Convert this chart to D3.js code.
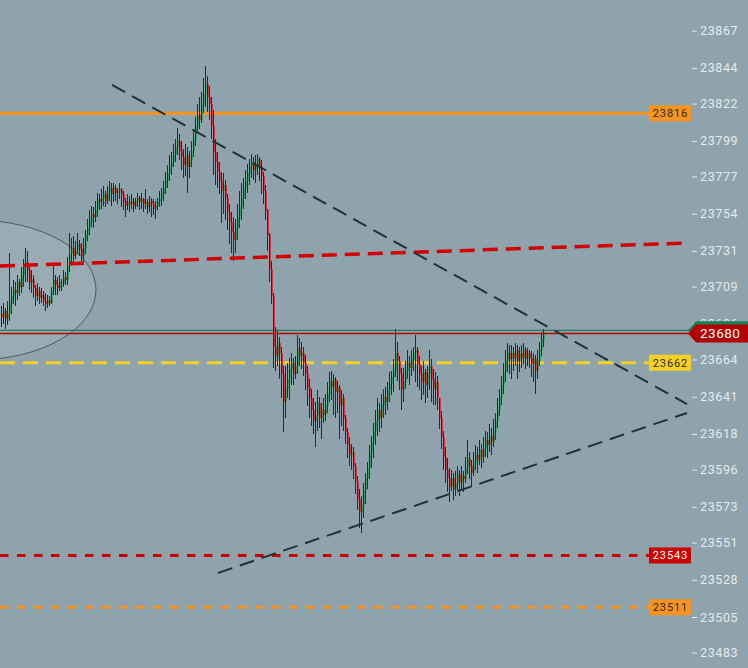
<!DOCTYPE html>
<html>
<head>
<meta charset="utf-8">
<script src="https://cdn.jsdelivr.net/npm/d3@7"></script>
<style>
  body { margin: 0; background: #8fa3ac; }
  svg { display: block; }
</style>
</head>
<body>
<svg id="chart" width="748" height="668"></svg>
<script>
// price series, one bar per column (open = previous close)
var firstOpen = 23692;
var closes = [
  23690,23694,23689,23692,23699,23703,23707,23705,23712,23709,
  23716,23721,23724,23719,23711,23714,23708,23703,23706,23702,
  23704,23700,23698,23701,23699,23706,23713,23710,23708,23712,
  23711,23715,23713,23722,23729,23733,23728,23731,23735,23732,
  23728,23733,23740,23745,23749,23754,23752,23757,23763,23761,
  23764,23766,23762,23767,23770,23766,23770,23767,23768,23769,
  23766,23762,23759,23761,23760,23762,23759,23762,23764,23761,
  23763,23760,23761,23758,23762,23760,23757,23759,23761,23764,
  23766,23770,23775,23779,23783,23786,23790,23795,23799,23793,
  23789,23784,23790,23783,23787,23793,23800,23808,23815,23812,
  23821,23828,23834,23826,23822,23808,23792,23786,23780,23774,
  23768,23772,23764,23755,23749,23743,23738,23745,23752,23758,
  23764,23770,23774,23779,23783,23786,23781,23784,23788,23783,
  23777,23768,23756,23741,23720,23703,23672,23666,23674,23668,
  23655,23638,23646,23652,23658,23662,23655,23660,23671,23666,
  23668,23662,23655,23647,23640,23633,23626,23630,23637,23628,
  23633,23630,23636,23643,23651,23647,23652,23644,23647,23636,
  23640,23628,23619,23611,23605,23607,23598,23589,23578,23570,
  23574,23583,23590,23597,23606,23613,23620,23626,23633,23628,
  23636,23641,23638,23646,23649,23653,23657,23668,23663,23655,
  23645,23650,23657,23662,23659,23664,23668,23670,23661,23655,
  23650,23656,23648,23655,23660,23652,23646,23650,23640,23628,
  23616,23604,23596,23591,23585,23591,23584,23588,23593,23588,
  23592,23590,23597,23603,23598,23594,23600,23605,23602,23608,
  23604,23609,23614,23611,23617,23613,23620,23626,23633,23641,
  23648,23656,23663,23668,23664,23668,23665,23670,23663,23668,
  23665,23670,23664,23668,23665,23661,23664,23657,23663,23670,
  23676,23680
];
var highs = [
  23697,23699,23696,23700,23730,23709,23713,23712,23716,23714,
  23721,23726,23733,23731,23721,23719,23716,23710,23711,23709,
  23708,23706,23705,23704,23703,23709,23722,23716,23715,23716,
  23714,23719,23718,23727,23742,23739,23740,23737,23742,23738,
  23736,23739,23744,23751,23756,23759,23758,23762,23767,23766,
  23769,23771,23768,23771,23774,23773,23773,23772,23770,23773,
  23770,23768,23764,23766,23765,23766,23764,23764,23767,23765,
  23767,23764,23769,23763,23765,23764,23763,23762,23764,23768,
  23770,23774,23780,23784,23790,23792,23797,23800,23807,23803,
  23799,23794,23797,23795,23793,23799,23806,23814,23822,23826,
  23829,23838,23845,23839,23833,23826,23818,23800,23792,23786,
  23780,23779,23775,23766,23760,23755,23752,23751,23760,23768,
  23773,23776,23781,23785,23788,23791,23789,23790,23791,23789,
  23787,23780,23772,23757,23742,23725,23705,23684,23682,23678,
  23672,23660,23660,23662,23665,23668,23665,23666,23679,23677,
  23675,23672,23667,23660,23652,23646,23640,23638,23645,23641,
  23637,23640,23643,23650,23656,23657,23655,23653,23651,23648,
  23645,23643,23630,23622,23616,23612,23610,23600,23592,23584,
  23580,23588,23594,23601,23611,23617,23625,23633,23640,23637,
  23643,23646,23647,23650,23656,23657,23664,23683,23675,23666,
  23659,23659,23663,23670,23666,23670,23672,23679,23672,23666,
  23660,23663,23658,23660,23670,23664,23658,23656,23654,23640,
  23632,23620,23610,23603,23597,23596,23594,23595,23598,23596,
  23598,23595,23604,23614,23607,23602,23607,23611,23610,23614,
  23612,23616,23620,23619,23624,23622,23627,23631,23640,23646,
  23654,23662,23670,23674,23673,23673,23672,23674,23673,23672,
  23673,23674,23672,23671,23670,23669,23668,23667,23670,23675,
  23681,23683
];
var lows = [
  23684,23686,23683,23685,23688,23692,23698,23697,23701,23703,
  23705,23709,23712,23712,23707,23705,23702,23697,23700,23698,
  23699,23697,23694,23696,23697,23698,23704,23704,23704,23706,
  23706,23709,23710,23710,23718,23724,23724,23726,23729,23728,
  23724,23724,23729,23737,23741,23746,23745,23749,23752,23756,
  23757,23759,23758,23760,23762,23759,23761,23762,23760,23763,
  23758,23756,23752,23756,23755,23757,23755,23757,23758,23756,
  23757,23755,23757,23754,23755,23752,23753,23751,23756,23758,
  23759,23762,23766,23770,23774,23778,23783,23786,23790,23787,
  23781,23776,23777,23767,23776,23783,23789,23796,23804,23806,
  23810,23816,23820,23817,23812,23800,23778,23772,23770,23766,
  23748,23754,23750,23744,23735,23730,23725,23730,23738,23745,
  23750,23757,23763,23767,23772,23776,23775,23773,23778,23774,
  23766,23760,23750,23731,23712,23698,23659,23657,23660,23652,
  23640,23619,23628,23640,23639,23648,23648,23652,23655,23660,
  23658,23654,23645,23635,23628,23623,23618,23610,23620,23622,
  23615,23625,23626,23631,23638,23639,23630,23628,23631,23615,
  23623,23620,23612,23603,23598,23596,23590,23581,23571,23560,
  23557,23566,23575,23584,23590,23597,23603,23611,23617,23619,
  23622,23628,23630,23633,23638,23642,23644,23653,23651,23645,
  23633,23638,23646,23652,23648,23654,23657,23650,23647,23645,
  23639,23642,23637,23640,23645,23638,23636,23636,23633,23621,
  23609,23596,23588,23582,23576,23583,23577,23580,23583,23580,
  23583,23582,23588,23593,23590,23586,23592,23596,23594,23599,
  23597,23600,23604,23603,23607,23605,23610,23614,23622,23629,
  23636,23643,23650,23656,23655,23652,23657,23660,23652,23656,
  23659,23661,23658,23660,23659,23653,23650,23643,23652,23660,
  23666,23672
];

// axis tick labels (right price scale)
var tickValues = [23483,23505,23528,23551,23573,23596,23618,23641,23664,
                  23686,23709,23731,23754,23777,23799,23822,23844,23867];

// horizontal levels with their tag colours
var levels = [23816, 23662, 23543, 23511];
var levelColors = ["#f7931e", "#f5d125", "#cc0000", "#f7931e"];
var levelText = ["#2b2b2b", "#2b2b2b", "#ffffff", "#2b2b2b"];
var levelDash = [null, "15,8", "8.5,8.5", "8.5,8.5"];
var lastPrice = 23680;
var askPrice = 23682;

// drawn objects: [bar index, price] end points
var upperTrend = [[55.5, 23833.5], [343, 23636.5]];
var lowerTrend = [[108.5, 23532.2], [343, 23631.0]];
var redTrend = [[-0.5, 23721.7], [343, 23735.9]];
var ellipseCenter = [-13, 23706.9];
var ellipseRadius = [60.5, 43.2]; // in bars, in price points

var W = 748, H = 668;
var svg = d3.select("#chart");
var index = d3.range(closes.length);

var xs = d3.scaleLinear().domain([0, closes.length - 1]).range([1, 543]);
var ys = d3.scaleLinear().domain([23483.4, 23867.43]).range([652, 30]);

svg.append("rect").attr("width", W).attr("height", H).attr("fill", "#8fa3ac");

// highlighted ellipse
svg.append("ellipse")
  .attr("cx", xs(ellipseCenter[0]))
  .attr("cy", ys(ellipseCenter[1]))
  .attr("rx", xs(ellipseRadius[0]) - xs(0))
  .attr("ry", ys(ellipseCenter[1] - ellipseRadius[1]) - ys(ellipseCenter[1]))
  .attr("fill", "rgba(255,255,255,0.09)")
  .attr("stroke", "#4c5b63")
  .attr("stroke-width", 1);

// ask / last price lines
svg.append("line")
  .attr("x1", 0).attr("x2", 690)
  .attr("y1", ys(askPrice)).attr("y2", ys(askPrice))
  .attr("stroke", "#16805a").attr("stroke-width", 1.2);
svg.append("line")
  .attr("x1", 0).attr("x2", 690)
  .attr("y1", ys(lastPrice)).attr("y2", ys(lastPrice))
  .attr("stroke", "#c00000").attr("stroke-width", 1.4);

// level lines (under candles)
svg.append("g").selectAll("line").data(levels).enter().append("line")
  .attr("x1", 0).attr("x2", 649)
  .attr("y1", function(d) { return ys(d); })
  .attr("y2", function(d) { return ys(d); })
  .attr("stroke", function(d, i) { return levelColors[i]; })
  .attr("stroke-width", 3)
  .attr("stroke-dasharray", function(d, i) { return levelDash[i]; });

// candles: dark wick column with the coloured body in the column beside it
var opens = index.map(function(i) { return i == 0 ? firstOpen : closes[i - 1]; });
var candles = svg.append("g").attr("shape-rendering", "crispEdges");
candles.selectAll("rect.wick").data(index).enter().append("rect")
  .attr("class", "wick")
  .attr("x", function(i) { return xs(i); })
  .attr("width", 1)
  .attr("y", function(i) { return ys(highs[i]); })
  .attr("height", function(i) { return ys(lows[i]) - ys(highs[i]); })
  .attr("fill", "#222b31");
candles.selectAll("rect.body").data(index).enter().append("rect")
  .attr("class", "body")
  .attr("x", function(i) { return xs(i) + 1; })
  .attr("width", 1)
  .attr("y", function(i) { return ys(Math.max(opens[i], closes[i])); })
  .attr("height", function(i) { return Math.max(1, Math.abs(ys(opens[i]) - ys(closes[i]))); })
  .attr("fill", function(i) { return closes[i] >= opens[i] ? "#2aa866" : "#e3313d"; });

// trend lines
var line = d3.line()
  .x(function(d) { return xs(d[0]); })
  .y(function(d) { return ys(d[1]); });
svg.append("path").attr("d", line(redTrend))
  .attr("fill", "none").attr("stroke", "#d20000")
  .attr("stroke-width", 3.5).attr("stroke-dasharray", "15,8");
[upperTrend, lowerTrend].forEach(function(t) {
  svg.append("path").attr("d", line(t))
    .attr("fill", "none").attr("stroke", "#262f36")
    .attr("stroke-width", 2).attr("stroke-dasharray", "15,8");
});

// level tags
var tags = svg.append("g").selectAll("g").data(levels).enter().append("g");
tags.append("rect")
  .attr("x", 649).attr("width", 42)
  .attr("y", function(d) { return ys(d) - 8; })
  .attr("height", 16)
  .attr("fill", function(d, i) { return levelColors[i]; });
tags.append("text")
  .attr("x", 670.5)
  .attr("y", function(d) { return ys(d); })
  .attr("dy", "0.36em")
  .attr("text-anchor", "middle")
  .attr("font-family", "Roboto, sans-serif")
  .attr("font-size", "11px")
  .attr("letter-spacing", "0.9px")
  .attr("fill", function(d, i) { return levelText[i]; })
  .text(function(d) { return d; });

// price axis
var axis = svg.append("g")
  .attr("transform", "translate(692,0)")
  .call(d3.axisRight(ys).tickValues(tickValues).tickSize(5).tickPadding(3).tickFormat(d3.format("d")));
axis.select(".domain").remove();
axis.selectAll(".tick line").attr("stroke", "#e1e7ea").attr("stroke-width", 1);
axis.selectAll(".tick text")
  .attr("fill", "#e6ebee")
  .attr("font-family", "Roboto, sans-serif")
  .attr("font-size", "12.5px")
  .attr("letter-spacing", "0.6px");

// last price tag (drawn over the axis, as in the platform)
function tagPath(y) {
  return "M688," + y + "L696," + (y - 9) + "L748," + (y - 9) + "L748," + (y + 9) + "L696," + (y + 9) + "Z";
}
svg.append("path").attr("d", tagPath(ys(askPrice))).attr("fill", "#16805a");
svg.append("path").attr("d", tagPath(ys(lastPrice))).attr("fill", "#b30000");
svg.append("text")
  .attr("x", 700).attr("y", ys(lastPrice)).attr("dy", "0.36em")
  .attr("font-family", "Roboto, sans-serif")
  .attr("font-size", "13.5px")
  .attr("letter-spacing", "0.5px")
  .attr("fill", "#ffffff")
  .text(lastPrice);
</script>
</body>
</html>
